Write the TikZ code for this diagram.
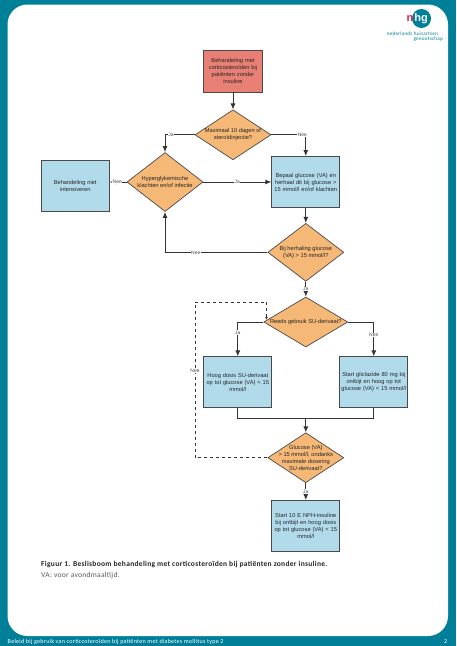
\documentclass[tikz,border=0pt]{standalone}
\usepackage{fontspec}
\setmainfont{Liberation Sans}
\newfontfamily\capfont[LetterSpace=4]{Carlito}
\usetikzlibrary{positioning, calc, arrows.meta, shapes.geometric}
\definecolor{nhgteal}{HTML}{007F99}
\definecolor{nhgred}{HTML}{E01F4F}
\definecolor{startred}{HTML}{E88075}
\definecolor{stepblue}{HTML}{B1DBEA}
\definecolor{askorange}{HTML}{F5B877}
\definecolor{edgegray}{HTML}{4A4A4A}

\begin{document}
\begin{tikzpicture}[
  x=1pt, y=-1pt,
  >={Latex[length=6pt, width=5pt]},
  every node/.style = {font=\fontsize{5.7}{7}\selectfont, text=black!85},
  block/.style  = {draw=edgegray, line width=.9pt, rectangle, fill=stepblue, align=center,
                   minimum width=68pt, minimum height=51pt, text width=67pt, inner sep=0pt},
  ask/.style    = {draw=edgegray, line width=.7pt, diamond, fill=askorange, align=center,
                   minimum width=76pt, minimum height=58pt, inner sep=-18pt},
  line/.style   = {draw=edgegray!70!black, line width=.9pt},
  lab/.style    = {fill=white, inner sep=.5pt, text=black!70, font=\fontsize{5}{6}\selectfont},
  foot/.style   = {text=white, anchor=west, inner sep=0pt, font=\capfont\fontsize{6.1}{7}\selectfont},
  capt/.style   = {anchor=west, inner sep=0pt, font=\capfont\fontsize{7.5}{9}\selectfont},
  logoline/.style = {inner sep=0pt, text=nhgteal, anchor=east, font=\capfont\fontsize{5.2}{5.5}\selectfont},
]
  \useasboundingbox (0,0) rectangle (456,646);
  \fill[nhgteal] (0,0) rectangle (456,646);
  \fill[white, rounded corners=20pt] (7.5,4.5) rectangle (448,636);

  % logo
  \node[circle, fill=nhgteal, minimum size=19pt, inner sep=0pt] (logo) at (421.5,18.5) {};
  \node[inner sep=0pt, text=white, font=\bfseries\fontsize{11}{11}\selectfont] (logohg) at (421,19) {hg};
  \node[inner sep=0pt, text=nhgred, font=\bfseries\fontsize{11}{11}\selectfont, anchor=base east] (logon) at ([xshift=-.5pt]logohg.base west) {n};
  \node[logoline] (logoa) at (438,34) {nederlands huisartsen};
  \node[logoline] (logob) at (443,39.5) {genootschap};

  % flowchart
  \node[block, fill=startred, minimum width=59pt, minimum height=42pt, text width=56pt] (start) at (233,71)
    {Behandeling met\\corticosteroïden bij\\patiënten zonder\\insuline};
  \node[ask, below=17pt of start, minimum height=50pt]  (steroid) {Maximaal 10 dagen of\\steroïdinjectie?};
  \node[ask, below=-8pt of steroid, xshift=-68pt, minimum height=59pt] (hyper) {Hyperglykemische\\klachten en/of infectie};
  \node[block, right=68pt of hyper]               (measure) {Bepaal glucose (VA) en\\herhaal dit bij glucose >\\15 mmol/l en/of klachten};
  \node[block, left=17pt of hyper, yshift=-4pt]   (nointens) {Behandeling niet\\intensiveren};
  \node[ask, below=15pt of measure]               (repeat) {Bij herhaling glucose\\(VA) > 15 mmol/l?};
  \node[ask, below=15pt of repeat, minimum width=84pt, minimum height=50pt] (already) {Reeds gebruik SU-derivaat?};
  \node[block, below=9pt of already, xshift=-68pt] (highsu) {Hoog dosis SU-derivaat\\op tot glucose (VA) < 15\\mmol/l};
  \node[block, below=9pt of already, xshift=68pt]  (gliclazide) {Start gliclazide 80 mg bij\\ontbijt en hoog op tot\\glucose (VA) < 15 mmol/l};
  \node[ask, below=85pt of already, minimum height=50pt] (maxdose) {Glucose (VA)\\> 15 mmol/l, ondanks\\maximale dosering\\SU-derivaat?};
  \node[block, below=17pt of maxdose]             (nph) {Start 10 E NPH-insuline\\bij ontbijt en hoog dosis\\op tot glucose (VA) < 15\\mmol/l};

  \coordinate (merge) at ($(maxdose.north)+(0,-14)$);
  \coordinate (dashtop) at (195,302);
  \coordinate (dashin)  at ($(already.west)+(3,-2.2)$);

  \draw[line, ->] (start) -- (steroid);
  \draw[line, ->] (steroid.west) -| node[lab, pos=.4] (lja1) {Ja} (hyper.north);
  \draw[line, ->] (steroid.east) -| node[lab, pos=.45] (lnee1) {Nee} (measure.north);
  \draw[line, ->] (hyper.east) -- node[lab] (lja2) {Ja} (measure.west);
  \draw[line, ->] (hyper.west) -- node[lab, pos=.55] (lnee2) {Nee} (hyper.west -| nointens.east);
  \draw[line, ->] (measure) -- (repeat);
  \draw[line, ->] (repeat.west) -| node[lab, pos=.35] (lnee3) {Nee} (hyper.south);
  \draw[line, ->] (repeat) -- node[lab, pos=.5] (lja3) {Ja} (already);
  \draw[line, ->] (already.west) -| node[lab, pos=.65] (lja4) {Ja} (highsu.north);
  \draw[line, ->] (already.east) -| node[lab, pos=.69] (lnee4) {Nee} (gliclazide.north);
  \draw[line] (highsu.south) |- (merge);
  \draw[line] (gliclazide.south) |- (merge);
  \draw[line, ->] (merge) -- (maxdose);
  \draw[line, ->] (maxdose) -- node[lab, pos=.5] (lja5) {Ja} (nph);
  \draw[line, ->, dashed, dash pattern=on 3pt off 3pt, >={Latex[length=3pt, width=3pt]}] (maxdose.west) -| node[lab, pos=.78] (lnee5) {Nee} (dashtop) -| (dashin);

  % caption
  \node[capt] (figcap) at (41,564.5) {\bfseries Figuur 1. Beslisboom behandeling met corticosteroïden bij patiënten zonder insuline.};
  \node[capt, text=black!65, below=4.5pt of figcap.south west, anchor=north west] (vanote) {VA: voor avondmaaltijd.};
  \node[foot] (footer) at (7.5,642) {Beleid bij gebruik van corticosteroïden bij patiënten met diabetes mellitus type 2};
  \node[foot] (pageno) at (444,642) {2};
\end{tikzpicture}
\end{document}
